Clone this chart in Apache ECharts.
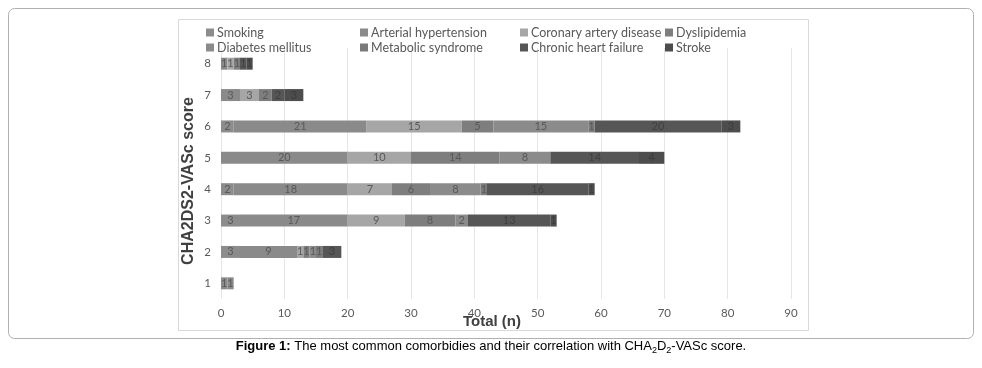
<!DOCTYPE html>
<html><head><meta charset="utf-8">
<script src="https://cdn.jsdelivr.net/npm/echarts@6/dist/echarts.min.js"></script>
<style>html,body{margin:0;padding:0;background:#fff}#c{width:982px;height:368px}</style>
</head><body><div id="c"></div>
<script>
const categories = ['1','2','3','4','5','6','7','8'];
const seriesNames = ['Smoking','Arterial hypertension','Coronary artery disease','Dyslipidemia','Diabetes mellitus','Metabolic syndrome','Chronic heart failure','Stroke'];
const smoking      = [1, 3, 3, 2, 0, 2, 0, 0];
const hypertension = [1, 9, 17, 18, 20, 21, 3, 1];
const coronary     = [0, 1, 9, 7, 10, 15, 3, 1];
const dyslipidemia = [0, 1, 8, 6, 14, 5, 2, 1];
const diabetes     = [0, 1, 2, 8, 8, 15, 0, 0];
const metabolic    = [0, 1, 0, 1, 0, 1, 0, 0];
const heartFailure = [0, 3, 13, 16, 14, 20, 2, 1];
const stroke       = [0, 0, 1, 1, 4, 3, 3, 1];
const xTicks = [0,10,20,30,40,50,60,70,80,90];

const values = [smoking, hypertension, coronary, dyslipidemia, diabetes, metabolic, heartFailure, stroke];
const colors = ['#8c8c8c','#8a8a8a','#a6a6a6','#7e7e7e','#8b8b8b','#7a7a7a','#565656','#4d4d4d'];
const labelColors = ['#595959','#595959','#595959','#595959','#595959','#595959','#404040','#3c3c3c'];

const series = seriesNames.map((n,i)=>({
  name:n, type:'bar', stack:'total', barWidth:12,
  data: values[i],
  itemStyle:{color:colors[i]},
  label:{show:true, position:'inside', color:labelColors[i], fontSize:11, fontFamily:'Lato',
    formatter:p=>p.value===0?'':String(p.value)},
  emphasis:{disabled:true}
}));

const legendCols = [[0,4],[1,5],[2,6],[3,7]];
const legendLeft = [201, 355, 515, 660];
const legends = legendCols.map((c,k)=>({
  orient:'vertical', left:legendLeft[k], top:21, itemGap:2,
  itemWidth:8, itemHeight:8, icon:'rect', selectedMode:false,
  data:c.map(i=>seriesNames[i]),
  textStyle:{color:'#595959', fontSize:12.5, fontFamily:'Lato', padding:[0,0,0,-2]}
}));

const chart = echarts.init(document.getElementById('c'), null, {renderer:'canvas'});
chart.setOption({
  animation:false,
  legend: legends,
  grid:{left:221, right:191, top:48, bottom:69},
  xAxis:{type:'value', min:0, max:90, interval:10,
    axisLine:{show:false}, axisTick:{show:false},
    axisLabel:{color:'#595959', fontSize:11.5, fontFamily:'Lato', margin:8,
      formatter:v=>xTicks.includes(v)?String(v):''},
    splitLine:{lineStyle:{color:'#e6e6e6'}}},
  yAxis:{type:'category', data:categories,
    axisLine:{show:false}, axisTick:{show:false},
    axisLabel:{color:'#595959', fontSize:11.5, fontFamily:'Lato', margin:10}},
  series: series,
  graphic:[
    {type:'rect', shape:{x:8.5,y:8.5,width:965,height:330,r:6}, style:{fill:'none',stroke:'#b0b0b0',lineWidth:1}, z:-1},
    {type:'rect', shape:{x:178.5,y:19.5,width:630,height:311}, style:{fill:'none',stroke:'#d9d9d9',lineWidth:1}, z:-1},
    {type:'text', x:189, y:181, rotation:Math.PI/2, style:{
      text:'CHA2DS2-VASc score', fontSize:16, fontWeight:'bold', fontFamily:'Liberation Sans',
      fill:'#404040', align:'center', verticalAlign:'middle'}},
    {type:'text', x:492, y:322, style:{
      text:'Total (n)', fontSize:15, fontWeight:'bold', fontFamily:'Liberation Sans Narrow, Liberation Sans',
      fill:'#404040', align:'center', verticalAlign:'middle'}},
    {type:'text', left:'center', top:340, style:{
      text:'{b|Figure 1:} The most common comorbidies and their correlation with CHA{s|2}D{s|2}-VASc score.',
      fontSize:13, fontFamily:'Liberation Sans', fill:'#000',
      rich:{b:{fontWeight:'bold',fontSize:13,fontFamily:'Liberation Sans'}, s:{fontSize:9,padding:[8,0,0,0],fontFamily:'Liberation Sans'}}
    }}
  ]
});
</script></body></html>
